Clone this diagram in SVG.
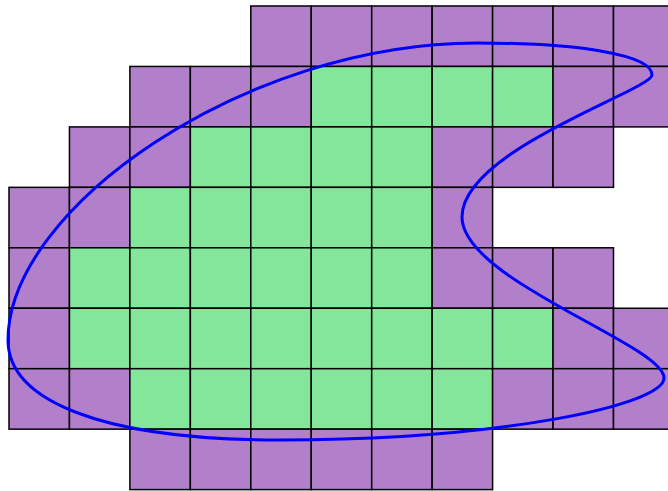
<svg xmlns="http://www.w3.org/2000/svg" width="668" height="491" viewBox="0 0 668 491">
<style>
.c{stroke:#000;stroke-width:1.5;width:60.45px;height:60.45px}
.p{fill:#b27fca}
.g{fill:#83e69b}
.curve{fill:none;stroke:#0000ff;stroke-width:3}
</style>
<rect width="668" height="491" fill="#fff"/>
<g id="grid">
<g id="row0">
<rect class="c p" x="250.8" y="6" width="60.45" height="60.45"/>
<rect class="c p" x="311.25" y="6" width="60.45" height="60.45"/>
<rect class="c p" x="371.7" y="6" width="60.45" height="60.45"/>
<rect class="c p" x="432.15" y="6" width="60.45" height="60.45"/>
<rect class="c p" x="492.6" y="6" width="60.45" height="60.45"/>
<rect class="c p" x="553.05" y="6" width="60.45" height="60.45"/>
<rect class="c p" x="613.5" y="6" width="60.45" height="60.45"/>
</g>
<g id="row1">
<rect class="c p" x="129.9" y="66.45" width="60.45" height="60.45"/>
<rect class="c p" x="190.35" y="66.45" width="60.45" height="60.45"/>
<rect class="c p" x="250.8" y="66.45" width="60.45" height="60.45"/>
<rect class="c g" x="311.25" y="66.45" width="60.45" height="60.45"/>
<rect class="c g" x="371.7" y="66.45" width="60.45" height="60.45"/>
<rect class="c g" x="432.15" y="66.45" width="60.45" height="60.45"/>
<rect class="c g" x="492.6" y="66.45" width="60.45" height="60.45"/>
<rect class="c p" x="553.05" y="66.45" width="60.45" height="60.45"/>
<rect class="c p" x="613.5" y="66.45" width="60.45" height="60.45"/>
</g>
<g id="row2">
<rect class="c p" x="69.45" y="126.9" width="60.45" height="60.45"/>
<rect class="c p" x="129.9" y="126.9" width="60.45" height="60.45"/>
<rect class="c g" x="190.35" y="126.9" width="60.45" height="60.45"/>
<rect class="c g" x="250.8" y="126.9" width="60.45" height="60.45"/>
<rect class="c g" x="311.25" y="126.9" width="60.45" height="60.45"/>
<rect class="c g" x="371.7" y="126.9" width="60.45" height="60.45"/>
<rect class="c p" x="432.15" y="126.9" width="60.45" height="60.45"/>
<rect class="c p" x="492.6" y="126.9" width="60.45" height="60.45"/>
<rect class="c p" x="553.05" y="126.9" width="60.45" height="60.45"/>
</g>
<g id="row3">
<rect class="c p" x="9" y="187.35" width="60.45" height="60.45"/>
<rect class="c p" x="69.45" y="187.35" width="60.45" height="60.45"/>
<rect class="c g" x="129.9" y="187.35" width="60.45" height="60.45"/>
<rect class="c g" x="190.35" y="187.35" width="60.45" height="60.45"/>
<rect class="c g" x="250.8" y="187.35" width="60.45" height="60.45"/>
<rect class="c g" x="311.25" y="187.35" width="60.45" height="60.45"/>
<rect class="c g" x="371.7" y="187.35" width="60.45" height="60.45"/>
<rect class="c p" x="432.15" y="187.35" width="60.45" height="60.45"/>
</g>
<g id="row4">
<rect class="c p" x="9" y="247.8" width="60.45" height="60.45"/>
<rect class="c g" x="69.45" y="247.8" width="60.45" height="60.45"/>
<rect class="c g" x="129.9" y="247.8" width="60.45" height="60.45"/>
<rect class="c g" x="190.35" y="247.8" width="60.45" height="60.45"/>
<rect class="c g" x="250.8" y="247.8" width="60.45" height="60.45"/>
<rect class="c g" x="311.25" y="247.8" width="60.45" height="60.45"/>
<rect class="c g" x="371.7" y="247.8" width="60.45" height="60.45"/>
<rect class="c p" x="432.15" y="247.8" width="60.45" height="60.45"/>
<rect class="c p" x="492.6" y="247.8" width="60.45" height="60.45"/>
<rect class="c p" x="553.05" y="247.8" width="60.45" height="60.45"/>
</g>
<g id="row5">
<rect class="c p" x="9" y="308.25" width="60.45" height="60.45"/>
<rect class="c g" x="69.45" y="308.25" width="60.45" height="60.45"/>
<rect class="c g" x="129.9" y="308.25" width="60.45" height="60.45"/>
<rect class="c g" x="190.35" y="308.25" width="60.45" height="60.45"/>
<rect class="c g" x="250.8" y="308.25" width="60.45" height="60.45"/>
<rect class="c g" x="311.25" y="308.25" width="60.45" height="60.45"/>
<rect class="c g" x="371.7" y="308.25" width="60.45" height="60.45"/>
<rect class="c g" x="432.15" y="308.25" width="60.45" height="60.45"/>
<rect class="c g" x="492.6" y="308.25" width="60.45" height="60.45"/>
<rect class="c p" x="553.05" y="308.25" width="60.45" height="60.45"/>
<rect class="c p" x="613.5" y="308.25" width="60.45" height="60.45"/>
</g>
<g id="row6">
<rect class="c p" x="9" y="368.7" width="60.45" height="60.45"/>
<rect class="c p" x="69.45" y="368.7" width="60.45" height="60.45"/>
<rect class="c g" x="129.9" y="368.7" width="60.45" height="60.45"/>
<rect class="c g" x="190.35" y="368.7" width="60.45" height="60.45"/>
<rect class="c g" x="250.8" y="368.7" width="60.45" height="60.45"/>
<rect class="c g" x="311.25" y="368.7" width="60.45" height="60.45"/>
<rect class="c g" x="371.7" y="368.7" width="60.45" height="60.45"/>
<rect class="c g" x="432.15" y="368.7" width="60.45" height="60.45"/>
<rect class="c p" x="492.6" y="368.7" width="60.45" height="60.45"/>
<rect class="c p" x="553.05" y="368.7" width="60.45" height="60.45"/>
<rect class="c p" x="613.5" y="368.7" width="60.45" height="60.45"/>
</g>
<g id="row7">
<rect class="c p" x="129.9" y="429.15" width="60.45" height="60.45"/>
<rect class="c p" x="190.35" y="429.15" width="60.45" height="60.45"/>
<rect class="c p" x="250.8" y="429.15" width="60.45" height="60.45"/>
<rect class="c p" x="311.25" y="429.15" width="60.45" height="60.45"/>
<rect class="c p" x="371.7" y="429.15" width="60.45" height="60.45"/>
<rect class="c p" x="432.15" y="429.15" width="60.45" height="60.45"/>
</g>
</g>
<g id="outline">
<path class="curve" d="M8,340 C8,208 245,43 477,43 C580,43 652,55 652,75 C652,90 462,150 462,217 C462,280 664,345 664,378 C664,405 500,440 280,440 C100,440 8,400 8,340 Z"/>
</g>
</svg>
